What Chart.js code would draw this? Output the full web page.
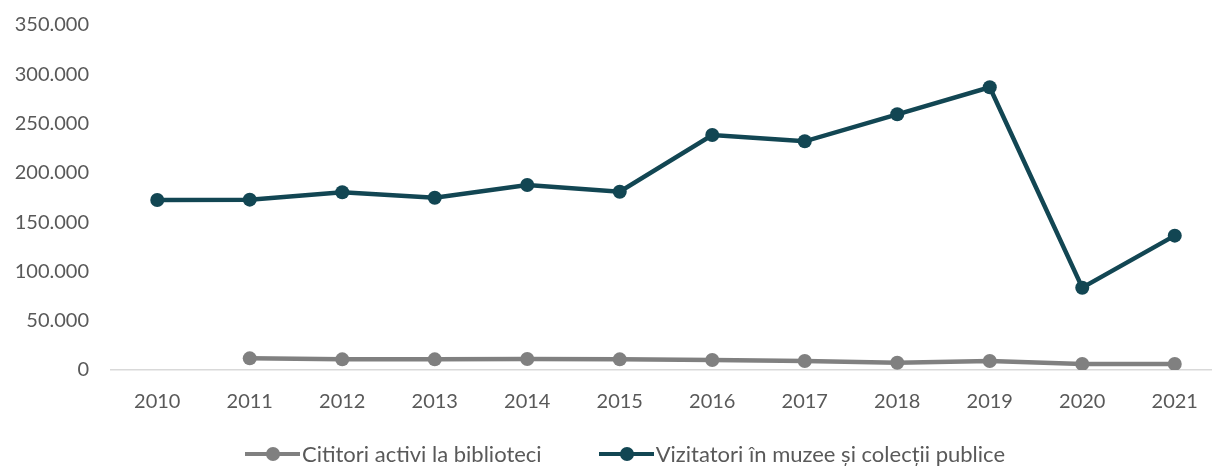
<!DOCTYPE html>
<html>
<head>
<meta charset="utf-8">
<script src="https://cdn.jsdelivr.net/npm/chart.js@4"></script>
<style>
    body { margin: 0; overflow: hidden; background: #fff; font-family: Lato, sans-serif; }
    #wrap { position: relative; width: 1228px; height: 466px; }
    #legend { position: absolute; top: 440px; left: 0; width: 1212px; display: flex; justify-content: center; gap: 57px; padding-left: 38px; box-sizing: border-box; }
    .item { display: flex; align-items: center; font-size: 22px; color: #595959; }
    .mark { position: relative; width: 55px; height: 14px; margin-right: 2px; }
    .mark .ln { position: absolute; left: 0; right: 0; top: 5px; height: 4px; }
    .mark .dt { position: absolute; left: 21px; top: 0; width: 14px; height: 14px; border-radius: 50%; }
</style>
</head>
<body>
<div id="wrap">
    <canvas id="chart" width="1228" height="466"></canvas>
    <div id="legend"></div>
</div>
<script>
// Chart data
const years = ['2010', '2011', '2012', '2013', '2014', '2015', '2016', '2017', '2018', '2019', '2020', '2021'];
const cititori = [null, 11800, 10800, 10800, 11100, 10800, 10100, 9100, 7400, 9100, 6100, 6100];
const vizitatori = [172500, 172800, 180300, 174800, 187700, 180900, 238400, 232000, 259400, 286800, 83500, 136300];
const yTicks = [0, 50000, 100000, 150000, 200000, 250000, 300000, 350000];
const yTickLabels = ['0', '50.000', '100.000', '150.000', '200.000', '250.000', '300.000', '350.000'];
const seriesNames = ['Cititori activi la biblioteci', 'Vizitatori în muzee și colecții publice'];

const grey = '#808080';
const teal = '#124653';
const textColor = '#595959';

const ctx = document.getElementById('chart').getContext('2d');
new Chart(ctx, {
    type: 'line',
    data: {
        labels: years,
        datasets: [{
            label: seriesNames[0],
            data: cititori,
            borderColor: grey,
            backgroundColor: grey,
            borderWidth: 4.5,
            pointRadius: 7,
            pointBorderWidth: 0
        }, {
            label: seriesNames[1],
            data: vizitatori,
            borderColor: teal,
            backgroundColor: teal,
            borderWidth: 4.5,
            pointRadius: 7,
            pointBorderWidth: 0
        }]
    },
    options: {
        responsive: false,
        animation: false,
        layout: { padding: { top: 25, right: 0, left: 0, bottom: 0 } },
        plugins: {
            legend: { display: false },
            tooltip: { enabled: false }
        },
        scales: {
            x: {
                offset: true,
                grid: { display: false, drawTicks: false },
                border: { display: true, color: '#d9d9d9', width: 1.5 },
                ticks: { color: textColor, font: { family: 'Lato', size: 20 }, padding: 20 },
                afterFit: (scale) => { scale.height = 96; scale.paddingLeft = 0; scale.paddingRight = 0; }
            },
            y: {
                min: 0,
                max: 350000,
                afterBuildTicks: (scale) => { scale.ticks = yTicks.map(v => ({ value: v })); },
                grid: { display: false, drawTicks: false },
                border: { display: false },
                ticks: {
                    color: textColor,
                    font: { family: 'Lato', size: 20 },
                    padding: 22,
                    callback: (value) => yTickLabels[yTicks.indexOf(value)]
                },
                afterFit: (scale) => { scale.width = 111; scale.paddingTop = 0; scale.paddingBottom = 0; }
            }
        }
    }
});

// Legend built from the same names and colours
const legend = document.getElementById('legend');
[grey, teal].forEach((color, i) => {
    const item = document.createElement('div');
    item.className = 'item';
    item.innerHTML = `<span class="mark"><span class="ln" style="background:${color}"></span><span class="dt" style="background:${color}"></span></span>`;
    const label = document.createElement('span');
    label.textContent = seriesNames[i];
    item.appendChild(label);
    legend.appendChild(item);
});
</script>
</body>
</html>
